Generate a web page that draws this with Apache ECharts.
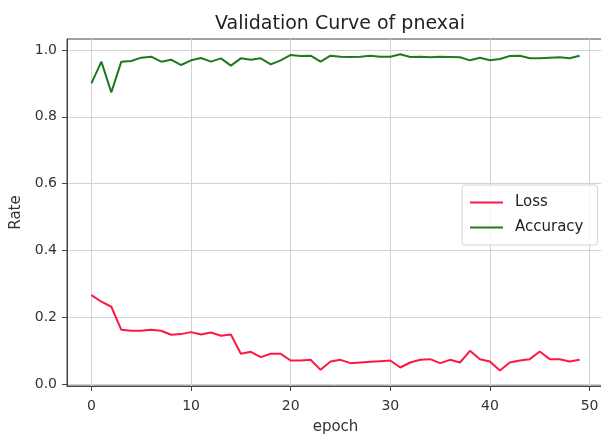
<!DOCTYPE html>
<html>
<head>
<meta charset="utf-8">
<script src="https://cdn.jsdelivr.net/npm/echarts@6/dist/echarts.min.js"></script>
<style>
  html, body { margin: 0; padding: 0; background: #fff; }
  #chart { width: 601px; height: 435px; }
</style>
</head>
<body>
<div id="chart"></div>
<script>
// Epoch index for each validation step
const epochs = Array.from({ length: 50 }, (_, i) => i);

// Validation loss per epoch
const lossValues = [
  0.266, 0.246, 0.231, 0.162, 0.159, 0.159, 0.162, 0.159, 0.147, 0.149,
  0.155, 0.148, 0.154, 0.144, 0.148, 0.090, 0.096, 0.080, 0.090, 0.090,
  0.070, 0.070, 0.072, 0.042, 0.067, 0.072, 0.062, 0.064, 0.066, 0.068,
  0.070, 0.049, 0.064, 0.072, 0.074, 0.062, 0.072, 0.064, 0.099, 0.074,
  0.067, 0.040, 0.064, 0.070, 0.074, 0.097, 0.074, 0.074, 0.067, 0.072
];

// Validation accuracy per epoch
const accuracyValues = [
  0.900, 0.965, 0.873, 0.965, 0.967, 0.977, 0.980, 0.965, 0.971, 0.955,
  0.969, 0.976, 0.965, 0.975, 0.953, 0.975, 0.971, 0.975, 0.957, 0.969,
  0.985, 0.982, 0.983, 0.965, 0.983, 0.980, 0.979, 0.980, 0.983, 0.980,
  0.980, 0.987, 0.979, 0.980, 0.978, 0.980, 0.979, 0.978, 0.969, 0.977,
  0.969, 0.973, 0.982, 0.983, 0.975, 0.975, 0.977, 0.978, 0.975, 0.983
];

// Tick positions
const xTicks = [0, 10, 20, 30, 40, 50];
const yTicks = [0.0, 0.2, 0.4, 0.6, 0.8, 1.0];

const FONT = 'DejaVu Sans';
const chart = echarts.init(document.getElementById('chart'), null, { renderer: 'canvas' });

const pair = (vals) => epochs.map((e, i) => [e, vals[i]]);

chart.setOption({
  animation: false,
  backgroundColor: '#ffffff',
  title: {
    text: 'Validation Curve of pnexai',
    left: 335,
    textAlign: 'center',
    top: 10,
    textStyle: { fontFamily: FONT, fontSize: 19, fontWeight: 'normal', color: '#222' }
  },
  legend: {
    orient: 'vertical',
    left: 462,
    top: 185,
    padding: [10, 14, 10, 8],
    itemGap: 10,
    itemWidth: 33,
    itemHeight: 2,
    icon: 'rect',
    backgroundColor: 'rgba(255,255,255,0.85)',
    borderColor: '#d5d5d5',
    borderWidth: 1,
    borderRadius: 3,
    textStyle: { fontFamily: FONT, fontSize: 15, color: '#222', padding: [0, 0, 0, 7] },
    data: ['Loss', 'Accuracy']
  },
  grid: {
    left: 67,
    top: 39,
    width: 537,
    height: 347,
    show: true,
    borderColor: '#444',
    borderWidth: 1,
    containLabel: false,
    outerBoundsMode: 'none'
  },
  xAxis: {
    type: 'value',
    min: -2.45,
    max: 51.45,
    name: 'epoch',
    nameLocation: 'middle',
    nameGap: 34,
    nameTextStyle: { fontFamily: FONT, fontSize: 15, color: '#333' },
    axisLine: { show: true, onZero: false, lineStyle: { color: '#444', width: 1 } },
    axisTick: { show: true, length: 5, customValues: xTicks, lineStyle: { color: '#444' } },
    axisLabel: {
      customValues: xTicks,
      fontFamily: FONT, fontSize: 14, color: '#333', margin: 13,
      formatter: (v) => String(v)
    },
    splitLine: { show: true, lineStyle: { color: '#d2d2d2', width: 1 } }
  },
  yAxis: {
    type: 'value',
    min: -0.0064,
    max: 1.0329,
    name: 'Rate',
    nameLocation: 'middle',
    nameGap: 43,
    nameTextStyle: { fontFamily: FONT, fontSize: 15, color: '#333' },
    axisLine: { show: true, onZero: false, lineStyle: { color: '#444', width: 1 } },
    axisTick: { show: true, length: 5, customValues: yTicks, lineStyle: { color: '#444' } },
    axisLabel: {
      customValues: yTicks,
      fontFamily: FONT, fontSize: 14, color: '#333', margin: 10,
      formatter: (v) => v.toFixed(1)
    },
    splitLine: { show: true, lineStyle: { color: '#d2d2d2', width: 1 } }
  },
  series: [
    {
      name: 'Loss',
      type: 'line',
      data: pair(lossValues),
      showSymbol: false,
      symbol: 'none',
      lineStyle: { color: '#ff1744', width: 2 },
      itemStyle: { color: '#ff1744' }
    },
    {
      name: 'Accuracy',
      type: 'line',
      data: pair(accuracyValues),
      showSymbol: false,
      symbol: 'none',
      lineStyle: { color: '#1e7a22', width: 2 },
      itemStyle: { color: '#1e7a22' }
    }
  ]
});
</script>
</body>
</html>
